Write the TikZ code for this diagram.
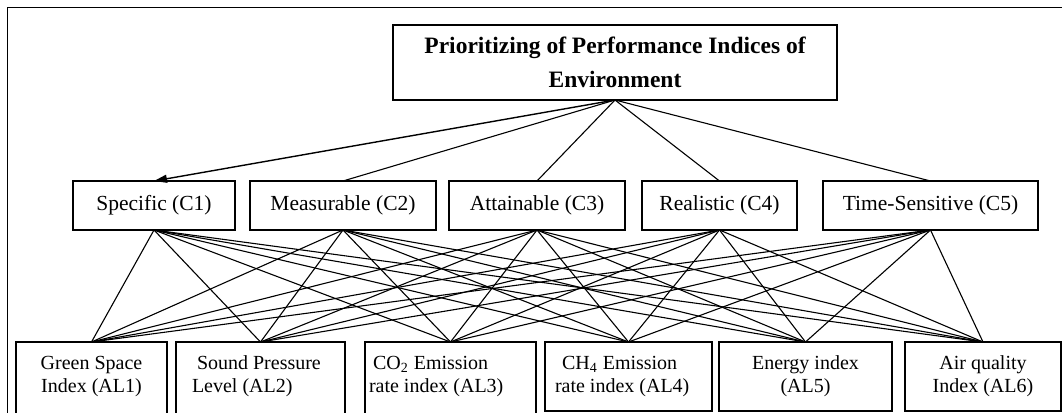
\documentclass[tikz,border=0pt]{standalone}
\usepackage{fontspec}
\setmainfont{Liberation Serif}
\usetikzlibrary{arrows.meta}
\begin{document}
\begin{tikzpicture}[x=0.5pt,y=-0.5pt,inner sep=0pt,outer sep=0pt,line width=0.55pt,
goalbox/.style={draw,rectangle,line width=0.6pt,minimum width=222pt,minimum height=37.5pt,align=center,font=\bfseries\fontsize{11.75}{17}\selectfont},
critbox/.style={draw,rectangle,line width=0.6pt,minimum height=24.5pt,font=\fontsize{10.75}{13}\selectfont},
altbox/.style={draw,rectangle,line width=0.6pt,minimum height=34.5pt,font=\fontsize{10}{11.5}\selectfont},
openbox/.style={altbox,draw=none}]
\clip (0,0) rectangle (1062,413);
\draw[line width=0.75pt] (7.5,7.5) rectangle (1090,440);
% goal
\draw (615,62.5) node[goalbox] (goal) {Prioritizing of Performance Indices of\\Environment};
% criteria
\draw (154,205.5) node[critbox,minimum width=81pt] (C1) {Specific (C1)};
\draw (343,205.5) node[critbox,minimum width=93pt] (C2) {Measurable (C2)};
\draw (537,205.5) node[critbox,minimum width=88pt] (C3) {Attainable (C3)};
\draw (719.5,205.5) node[critbox,minimum width=77.5pt] (C4) {Realistic (C4)};
\draw (930.5,205.5) node[critbox,minimum width=107.5pt] (C5) {Time-Sensitive (C5)};
% alternatives
\draw (91.5,376.5) node[openbox,minimum width=75.5pt,align=center] (AL1) {Green Space\\Index (AL1)};
\draw (260.5,376.5) node[openbox,inner xsep=8pt,text width=68.5pt,align=flush left] (AL2) {\hspace{2.5pt}Sound Pressure\\Level (AL2)};
\draw (450.5,376.5) node[openbox,inner xsep=2pt,text width=81.5pt,align=flush left] (AL3) {\hspace{2pt}CO\textsubscript{2} Emission\\rate index (AL3)};
\draw (628.5,376.5) node[altbox,inner xsep=5pt,text width=73.5pt,align=flush left] (AL4) {\hspace{3.5pt}CH\textsubscript{4} Emission\\rate index (AL4)};
\draw (805.5,376.5) node[altbox,minimum width=86.5pt,align=center] (AL5) {Energy index\\(AL5)};
\draw (983,376.5) node[altbox,minimum width=78pt,align=center] (AL6) {Air quality\\Index (AL6)};
\foreach \a in {AL1,AL2,AL3}
  \draw[line width=0.6pt] ([yshift=-20pt]\a.south west) |- (\a.north east) -- ([yshift=-20pt]\a.south east);
% goal to criteria
\draw[-{Triangle[length=6.5pt,width=4pt]},line width=0.7pt] (goal.south) -- (C1.north);
\foreach \c in {C2,C3,C4,C5}
  \draw (goal.south) -- (\c.north);
% criteria to alternatives
\foreach \i in {1,...,5}
  \foreach \j in {1,...,6}
    \draw (C\i.south) -- (AL\j.north);
\end{tikzpicture}
\end{document}
